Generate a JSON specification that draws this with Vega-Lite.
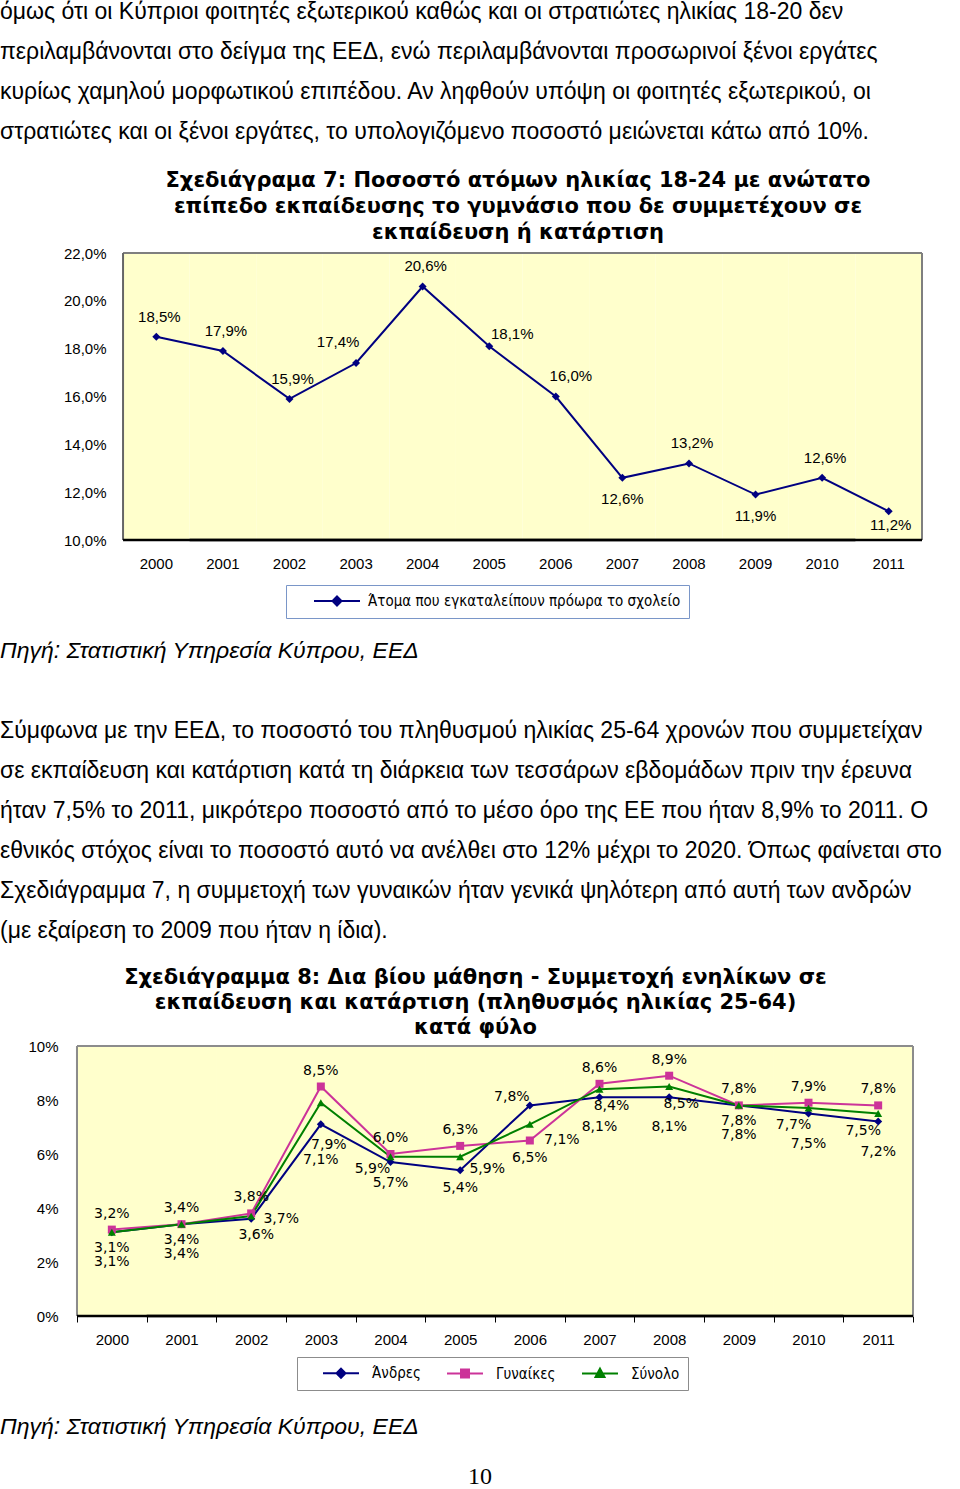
{
  "$schema": "https://vega.github.io/schema/vega-lite/v6.json",
  "padding": 0,
  "background": "white",
  "spacing": 0,
  "bounds": "flush",
  "resolve": {
    "scale": {"x": "independent", "y": "independent", "color": "independent", "fill": "independent", "stroke": "independent", "shape": "independent"},
    "legend": {"color": "independent", "fill": "independent", "stroke": "independent", "shape": "independent"}
  },
  "config": {
    "locale": {"number": {"decimal": ",", "thousands": ".", "grouping": [3], "currency": ["", " €"]}},
    "view": {"stroke": null},
    "axis": {"labelColor": "black", "titleColor": "black"},
    "legend": {"symbolStrokeWidth": 2}
  },
  "vconcat": [
    {
      "width": 960,
      "height": 253,
      "data": {"values": [
        {"line": 0, "text": "όμως ότι οι Κύπριοι φοιτητές εξωτερικού καθώς και οι στρατιώτες ηλικίας 18-20 δεν"},
        {"line": 1, "text": "περιλαμβάνονται στο δείγμα της ΕΕΔ, ενώ περιλαμβάνονται προσωρινοί ξένοι εργάτες"},
        {"line": 2, "text": "κυρίως χαμηλού μορφωτικού επιπέδου. Αν ληφθούν υπόψη οι φοιτητές εξωτερικού, οι"},
        {"line": 3, "text": "στρατιώτες και οι ξένοι εργάτες, το υπολογιζόμενο ποσοστό μειώνεται κάτω από 10%."}
      ]},
      "mark": {"type": "text", "align": "left", "baseline": "middle", "font": "Liberation Sans", "fontSize": 23, "color": "black"},
      "encoding": {
        "x": {"datum": 0, "type": "quantitative", "scale": {"domain": [0, 1]}, "axis": null},
        "y": {"field": "line", "type": "quantitative", "scale": {"domain": [-0.3, 6.025], "reverse": true, "nice": false, "zero": false}, "axis": null},
        "text": {"field": "text"}
      }
    },
    {
      "width": 922,
      "height": 287,
      "title": {
        "text": ["Σχεδιάγραμα 7: Ποσοστό ατόμων ηλικίας 18-24 με ανώτατο", "επίπεδο εκπαίδευσης το γυμνάσιο που δε συμμετέχουν σε", "εκπαίδευση ή κατάρτιση"],
        "font": "DejaVu Sans", "fontSize": 21, "fontWeight": "bold", "color": "black",
        "lineHeight": 26, "anchor": "middle", "dx": 57, "offset": 3
      },
      "data": {"values": [
        {"year": "2000", "value": 0.185},
        {"year": "2001", "value": 0.179},
        {"year": "2002", "value": 0.159},
        {"year": "2003", "value": 0.174},
        {"year": "2004", "value": 0.206},
        {"year": "2005", "value": 0.181},
        {"year": "2006", "value": 0.160},
        {"year": "2007", "value": 0.126},
        {"year": "2008", "value": 0.132},
        {"year": "2009", "value": 0.119},
        {"year": "2010", "value": 0.126},
        {"year": "2011", "value": 0.112}
      ]},
      "encoding": {
        "x": {"field": "year", "type": "ordinal", "scale": {"paddingInner": 0, "paddingOuter": 0.924, "align": 1},
          "axis": {"title": null, "labelAngle": 0, "ticks": false, "tickSize": 0, "domain": false,
            "labelFont": "Liberation Sans", "labelFontSize": 15, "labelPadding": 16}},
        "y": {"field": "value", "type": "quantitative", "scale": {"domain": [0.10, 0.22], "nice": false, "zero": false},
          "axis": {"title": null, "offset": -123, "values": [0.10, 0.12, 0.14, 0.16, 0.18, 0.20, 0.22], "format": ".1%", "ticks": false, "tickSize": 0,
            "domain": false, "grid": false, "labelFont": "Liberation Sans", "labelFontSize": 15, "labelPadding": 17}}
      },
      "layer": [
        {
          "mark": {"type": "rect", "fill": "#FFFFCC", "strokeWidth": 0},
          "encoding": {"y": {"datum": 0.22, "type": "quantitative"}, "y2": {"datum": 0.10}}
        },
        {
          "mark": {"type": "line", "color": "#7f7f7f", "strokeWidth": 2},
          "encoding": {"x": {"field": "year", "type": "ordinal", "bandPosition": 0}, "y": {"datum": 0.22, "type": "quantitative"}}
        },
        {
          "mark": {"type": "line", "color": "#7f7f7f", "strokeWidth": 2},
          "encoding": {"x": {"field": "year", "type": "ordinal", "bandPosition": 1}, "y": {"datum": 0.22, "type": "quantitative"}}
        },
        {
          "transform": [{"filter": "datum.year === '2000'"}],
          "mark": {"type": "rule", "color": "#666666", "strokeWidth": 2},
          "encoding": {"x": {"field": "year", "type": "ordinal", "bandPosition": 0}, "y": {"datum": 0.22, "type": "quantitative"}, "y2": {"datum": 0.10}}
        },
        {
          "transform": [{"filter": "datum.year === '2011'"}],
          "mark": {"type": "rule", "color": "#7f7f7f", "strokeWidth": 2},
          "encoding": {"x": {"field": "year", "type": "ordinal", "bandPosition": 1}, "y": {"datum": 0.22, "type": "quantitative"}, "y2": {"datum": 0.10}}
        },
        {
          "mark": {"type": "line", "color": "black", "strokeWidth": 2.5},
          "encoding": {"x": {"field": "year", "type": "ordinal", "bandPosition": 0}, "y": {"datum": 0.10, "type": "quantitative"}}
        },
        {
          "mark": {"type": "line", "color": "black", "strokeWidth": 2.5},
          "encoding": {"x": {"field": "year", "type": "ordinal", "bandPosition": 1}, "y": {"datum": 0.10, "type": "quantitative"}}
        },
        {"mark": {"type": "line", "color": "#000080", "strokeWidth": 2}},
        {"mark": {"type": "point", "shape": "diamond", "filled": true, "color": "#000080", "size": 64, "opacity": 1}},
        {
          "transform": [{"filter": {"field": "year", "oneOf": ["2000", "2001", "2002", "2004", "2008", "2010"]}}],
          "mark": {"type": "text", "dy": -20, "dx": 3, "font": "Liberation Sans", "fontSize": 15, "color": "black"},
          "encoding": {"text": {"field": "value", "type": "quantitative", "format": ".1%"}}
        },
        {
          "transform": [{"filter": {"field": "year", "oneOf": ["2003"]}}],
          "mark": {"type": "text", "dy": -21, "dx": -18, "font": "Liberation Sans", "fontSize": 15, "color": "black"},
          "encoding": {"text": {"field": "value", "type": "quantitative", "format": ".1%"}}
        },
        {
          "transform": [{"filter": {"field": "year", "oneOf": ["2005"]}}],
          "mark": {"type": "text", "dy": -12, "dx": 23, "font": "Liberation Sans", "fontSize": 15, "color": "black"},
          "encoding": {"text": {"field": "value", "type": "quantitative", "format": ".1%"}}
        },
        {
          "transform": [{"filter": {"field": "year", "oneOf": ["2006"]}}],
          "mark": {"type": "text", "dy": -21, "dx": 15, "font": "Liberation Sans", "fontSize": 15, "color": "black"},
          "encoding": {"text": {"field": "value", "type": "quantitative", "format": ".1%"}}
        },
        {
          "transform": [{"filter": {"field": "year", "oneOf": ["2007", "2009"]}}],
          "mark": {"type": "text", "dy": 21, "font": "Liberation Sans", "fontSize": 15, "color": "black"},
          "encoding": {"text": {"field": "value", "type": "quantitative", "format": ".1%"}}
        },
        {
          "transform": [{"filter": {"field": "year", "oneOf": ["2011"]}}],
          "mark": {"type": "text", "dy": 14, "dx": 2, "font": "Liberation Sans", "fontSize": 15, "color": "black"},
          "encoding": {"text": {"field": "value", "type": "quantitative", "format": ".1%"}}
        },
        {
          "transform": [{"filter": "false"}],
          "mark": {"type": "point", "filled": true, "opacity": 1, "strokeWidth": 2},
          "encoding": {
            "fill": {"datum": "Άτομα που εγκαταλείπουν πρόωρα το σχολείο", "type": "nominal",
              "scale": {"domain": ["Άτομα που εγκαταλείπουν πρόωρα το σχολείο"], "range": ["#000080"]},
              "legend": {"orient": "none", "legendX": 286, "legendY": 332, "direction": "horizontal", "title": null,
                "labelFont": "Liberation Sans Narrow, DejaVu Sans Condensed, sans-serif", "labelFontSize": 15, "labelColor": "black",
                "strokeColor": "#7a96c8", "fillColor": "white", "padding": 8, "labelOffset": 58, "symbolSize": 196, "symbolStrokeWidth": 2, "labelLimit": 600}},
            "stroke": {"datum": "Άτομα που εγκαταλείπουν πρόωρα το σχολείο", "type": "nominal",
              "scale": {"domain": ["Άτομα που εγκαταλείπουν πρόωρα το σχολείο"], "range": ["#000080"]},
              "legend": {"orient": "none", "legendX": 286, "legendY": 332, "direction": "horizontal", "title": null,
                "labelFont": "Liberation Sans Narrow, DejaVu Sans Condensed, sans-serif", "labelFontSize": 15, "labelColor": "black",
                "strokeColor": "#7a96c8", "fillColor": "white", "padding": 8, "labelOffset": 58, "symbolSize": 196, "symbolStrokeWidth": 2, "labelLimit": 600}},
            "shape": {"datum": "Άτομα που εγκαταλείπουν πρόωρα το σχολείο", "type": "nominal",
              "scale": {"domain": ["Άτομα που εγκαταλείπουν πρόωρα το σχολείο"], "range": ["M1.714,0H8.286M5,-0.643L5.643,0L5,0.643L4.357,0Z"]},
              "legend": {"orient": "none", "legendX": 286, "legendY": 332, "direction": "horizontal", "title": null,
                "labelFont": "Liberation Sans Narrow, DejaVu Sans Condensed, sans-serif", "labelFontSize": 15, "labelColor": "black",
                "strokeColor": "#7a96c8", "fillColor": "white", "padding": 8, "labelOffset": 58, "symbolSize": 196, "symbolStrokeWidth": 2, "labelLimit": 600}}
          }
        }
      ]
    },
    {
      "width": 960,
      "height": 506,
      "encoding": {
        "x": {"datum": 0, "type": "quantitative", "scale": {"domain": [0, 1]}, "axis": null},
        "y": {"field": "line", "type": "quantitative", "scale": {"domain": [-2.775, 9.875], "reverse": true, "nice": false, "zero": false}, "axis": null},
        "text": {"field": "text"}
      },
      "layer": [
        {
          "data": {"values": [{"line": 0, "text": "Πηγή: Στατιστική Υπηρεσία Κύπρου, ΕΕΔ"}]},
          "mark": {"type": "text", "align": "left", "baseline": "middle", "font": "Liberation Sans", "fontSize": 23, "fontStyle": "italic", "color": "black"}
        },
        {
          "data": {"values": [
            {"line": 2, "text": "Σύμφωνα με την ΕΕΔ, το ποσοστό του πληθυσμού ηλικίας 25-64 χρονών που συμμετείχαν"},
            {"line": 3, "text": "σε εκπαίδευση και κατάρτιση κατά τη διάρκεια των τεσσάρων εβδομάδων πριν την έρευνα"},
            {"line": 4, "text": "ήταν 7,5% το 2011, μικρότερο ποσοστό από το μέσο όρο της ΕΕ που ήταν 8,9% το 2011. Ο"},
            {"line": 5, "text": "εθνικός στόχος είναι το ποσοστό αυτό να ανέλθει στο 12% μέχρι το 2020. Όπως φαίνεται στο"},
            {"line": 6, "text": "Σχεδιάγραμμα 7, η συμμετοχή των γυναικών ήταν γενικά ψηλότερη από αυτή των ανδρών"},
            {"line": 7, "text": "(με εξαίρεση το 2009 που ήταν η ίδια)."}
          ]},
          "mark": {"type": "text", "align": "left", "baseline": "middle", "font": "Liberation Sans", "fontSize": 23, "color": "black"}
        }
      ]
    },
    {
      "width": 913,
      "height": 270,
      "title": {
        "text": ["Σχεδιάγραμμα 8: Δια βίου μάθηση - Συμμετοχή ενηλίκων σε", "εκπαίδευση και κατάρτιση (πληθυσμός ηλικίας 25-64)", "κατά φύλο"],
        "font": "DejaVu Sans", "fontSize": 21, "fontWeight": "bold", "color": "black",
        "lineHeight": 25, "anchor": "middle", "dx": 19, "offset": 1
      },
      "data": {"values": [
        {"year": "2000", "series": "Άνδρες", "value": 0.031},
        {"year": "2001", "series": "Άνδρες", "value": 0.034},
        {"year": "2002", "series": "Άνδρες", "value": 0.036},
        {"year": "2003", "series": "Άνδρες", "value": 0.071},
        {"year": "2004", "series": "Άνδρες", "value": 0.057},
        {"year": "2005", "series": "Άνδρες", "value": 0.054},
        {"year": "2006", "series": "Άνδρες", "value": 0.078},
        {"year": "2007", "series": "Άνδρες", "value": 0.081},
        {"year": "2008", "series": "Άνδρες", "value": 0.081},
        {"year": "2009", "series": "Άνδρες", "value": 0.078},
        {"year": "2010", "series": "Άνδρες", "value": 0.075},
        {"year": "2011", "series": "Άνδρες", "value": 0.072},
        {"year": "2000", "series": "Γυναίκες", "value": 0.032},
        {"year": "2001", "series": "Γυναίκες", "value": 0.034},
        {"year": "2002", "series": "Γυναίκες", "value": 0.038},
        {"year": "2003", "series": "Γυναίκες", "value": 0.085},
        {"year": "2004", "series": "Γυναίκες", "value": 0.060},
        {"year": "2005", "series": "Γυναίκες", "value": 0.063},
        {"year": "2006", "series": "Γυναίκες", "value": 0.065},
        {"year": "2007", "series": "Γυναίκες", "value": 0.086},
        {"year": "2008", "series": "Γυναίκες", "value": 0.089},
        {"year": "2009", "series": "Γυναίκες", "value": 0.078},
        {"year": "2010", "series": "Γυναίκες", "value": 0.079},
        {"year": "2011", "series": "Γυναίκες", "value": 0.078},
        {"year": "2000", "series": "Σύνολο", "value": 0.031},
        {"year": "2001", "series": "Σύνολο", "value": 0.034},
        {"year": "2002", "series": "Σύνολο", "value": 0.037},
        {"year": "2003", "series": "Σύνολο", "value": 0.079},
        {"year": "2004", "series": "Σύνολο", "value": 0.059},
        {"year": "2005", "series": "Σύνολο", "value": 0.059},
        {"year": "2006", "series": "Σύνολο", "value": 0.071},
        {"year": "2007", "series": "Σύνολο", "value": 0.084},
        {"year": "2008", "series": "Σύνολο", "value": 0.085},
        {"year": "2009", "series": "Σύνολο", "value": 0.078},
        {"year": "2010", "series": "Σύνολο", "value": 0.077},
        {"year": "2011", "series": "Σύνολο", "value": 0.075}
      ]},
      "encoding": {
        "x": {"field": "year", "type": "ordinal", "scale": {"paddingInner": 0, "paddingOuter": 0.5526, "align": 1},
          "axis": {"title": null, "labelAngle": 0, "ticks": true, "tickBand": "extent", "tickSize": 6, "tickColor": "black", "tickWidth": 1,
            "domain": false, "labelFont": "Liberation Sans", "labelFontSize": 15, "labelPadding": 10}},
        "y": {"field": "value", "type": "quantitative", "scale": {"domain": [0, 0.10], "nice": false, "zero": false},
          "axis": {"title": null, "offset": -77, "values": [0, 0.02, 0.04, 0.06, 0.08, 0.10], "format": ".0%", "ticks": false, "tickSize": 0,
            "domain": false, "grid": false, "labelFont": "Liberation Sans", "labelFontSize": 15, "labelPadding": 19}}
      },
      "layer": [
        {
          "mark": {"type": "rect", "fill": "#FFFFCC", "strokeWidth": 0},
          "encoding": {"y": {"datum": 0.10, "type": "quantitative"}, "y2": {"datum": 0}}
        },
        {
          "mark": {"type": "line", "color": "#8c8c8c", "strokeWidth": 2},
          "encoding": {"x": {"field": "year", "type": "ordinal", "bandPosition": 0}, "y": {"datum": 0.10, "type": "quantitative"}}
        },
        {
          "mark": {"type": "line", "color": "#8c8c8c", "strokeWidth": 2},
          "encoding": {"x": {"field": "year", "type": "ordinal", "bandPosition": 1}, "y": {"datum": 0.10, "type": "quantitative"}}
        },
        {
          "transform": [{"filter": "datum.year === '2000'"}],
          "mark": {"type": "rule", "color": "#8c8c8c", "strokeWidth": 2},
          "encoding": {"x": {"field": "year", "type": "ordinal", "bandPosition": 0}, "y": {"datum": 0.10, "type": "quantitative"}, "y2": {"datum": 0}}
        },
        {
          "transform": [{"filter": "datum.year === '2011'"}],
          "mark": {"type": "rule", "color": "#8c8c8c", "strokeWidth": 2},
          "encoding": {"x": {"field": "year", "type": "ordinal", "bandPosition": 1}, "y": {"datum": 0.10, "type": "quantitative"}, "y2": {"datum": 0}}
        },
        {
          "mark": {"type": "line", "color": "black", "strokeWidth": 2.5},
          "encoding": {"x": {"field": "year", "type": "ordinal", "bandPosition": 0}, "y": {"datum": 0, "type": "quantitative"}}
        },
        {
          "mark": {"type": "line", "color": "black", "strokeWidth": 2.5},
          "encoding": {"x": {"field": "year", "type": "ordinal", "bandPosition": 1}, "y": {"datum": 0, "type": "quantitative"}}
        },
        {
          "transform": [{"filter": "datum.series === 'Άνδρες'"}],
          "mark": {"type": "line", "strokeWidth": 2, "color": "#000080"}
        },
        {
          "transform": [{"filter": "datum.series === 'Γυναίκες'"}],
          "mark": {"type": "line", "strokeWidth": 2, "color": "#CC3399"}
        },
        {
          "transform": [{"filter": "datum.series === 'Σύνολο'"}],
          "mark": {"type": "line", "strokeWidth": 2, "color": "#008000"}
        },
        {
          "transform": [{"filter": "datum.series === 'Άνδρες'"}],
          "mark": {"type": "point", "shape": "diamond", "filled": true, "opacity": 1, "size": 64, "color": "#000080"}
        },
        {
          "transform": [{"filter": "datum.series === 'Γυναίκες'"}],
          "mark": {"type": "point", "shape": "square", "filled": true, "opacity": 1, "size": 64, "color": "#CC3399"}
        },
        {
          "transform": [{"filter": "datum.series === 'Σύνολο'"}],
          "mark": {"type": "point", "shape": "triangle-up", "filled": true, "opacity": 1, "size": 64, "color": "#008000"}
        },
        {
          "transform": [{"filter": "datum.series === 'Γυναίκες' && datum.year !== '2006'"}],
          "mark": {"type": "text", "dy": -16, "font": "DejaVu Sans", "fontSize": 14, "color": "black"},
          "encoding": {"text": {"field": "value", "type": "quantitative", "format": ".1%"}}
        },
        {
          "transform": [{"filter": "datum.series === 'Γυναίκες' && datum.year === '2006'"}],
          "mark": {"type": "text", "dy": 17, "font": "DejaVu Sans", "fontSize": 14, "color": "black"},
          "encoding": {"text": {"field": "value", "type": "quantitative", "format": ".1%"}}
        },
        {
          "transform": [{"filter": "datum.series === 'Σύνολο' && indexof(['2000','2001','2009'], datum.year) >= 0"}],
          "mark": {"type": "text", "dy": 16, "font": "DejaVu Sans", "fontSize": 14, "color": "black"},
          "encoding": {"text": {"field": "value", "type": "quantitative", "format": ".1%"}}
        },
        {
          "transform": [{"filter": "datum.series === 'Σύνολο' && datum.year === '2004'"}],
          "mark": {"type": "text", "dy": 12, "dx": -18, "font": "DejaVu Sans", "fontSize": 14, "color": "black"},
          "encoding": {"text": {"field": "value", "type": "quantitative", "format": ".1%"}}
        },
        {
          "transform": [{"filter": "datum.series === 'Σύνολο' && datum.year === '2005'"}],
          "mark": {"type": "text", "dy": 12, "dx": 27, "font": "DejaVu Sans", "fontSize": 14, "color": "black"},
          "encoding": {"text": {"field": "value", "type": "quantitative", "format": ".1%"}}
        },
        {
          "transform": [{"filter": "datum.series === 'Σύνολο' && indexof(['2007','2008'], datum.year) >= 0"}],
          "mark": {"type": "text", "dy": 17, "dx": 12, "font": "DejaVu Sans", "fontSize": 14, "color": "black"},
          "encoding": {"text": {"field": "value", "type": "quantitative", "format": ".1%"}}
        },
        {
          "transform": [{"filter": "datum.series === 'Σύνολο' && indexof(['2010','2011'], datum.year) >= 0"}],
          "mark": {"type": "text", "dy": 17, "dx": -15, "font": "DejaVu Sans", "fontSize": 14, "color": "black"},
          "encoding": {"text": {"field": "value", "type": "quantitative", "format": ".1%"}}
        },
        {
          "transform": [{"filter": "datum.series === 'Σύνολο' && datum.year === '2002'"}],
          "mark": {"type": "text", "dy": 3, "dx": 30, "font": "DejaVu Sans", "fontSize": 14, "color": "black"},
          "encoding": {"text": {"field": "value", "type": "quantitative", "format": ".1%"}}
        },
        {
          "transform": [{"filter": "datum.series === 'Σύνολο' && datum.year === '2003'"}],
          "mark": {"type": "text", "dy": 42, "dx": 8, "font": "DejaVu Sans", "fontSize": 14, "color": "black"},
          "encoding": {"text": {"field": "value", "type": "quantitative", "format": ".1%"}}
        },
        {
          "transform": [{"filter": "datum.series === 'Σύνολο' && datum.year === '2006'"}],
          "mark": {"type": "text", "dy": 16, "dx": 32, "font": "DejaVu Sans", "fontSize": 14, "color": "black"},
          "encoding": {"text": {"field": "value", "type": "quantitative", "format": ".1%"}}
        },
        {
          "transform": [{"filter": "datum.series === 'Άνδρες' && indexof(['2000','2001','2007','2008','2009','2010','2011'], datum.year) >= 0"}],
          "mark": {"type": "text", "dy": 30, "font": "DejaVu Sans", "fontSize": 14, "color": "black"},
          "encoding": {"text": {"field": "value", "type": "quantitative", "format": ".1%"}}
        },
        {
          "transform": [{"filter": "datum.series === 'Άνδρες' && datum.year === '2004'"}],
          "mark": {"type": "text", "dy": 21, "font": "DejaVu Sans", "fontSize": 14, "color": "black"},
          "encoding": {"text": {"field": "value", "type": "quantitative", "format": ".1%"}}
        },
        {
          "transform": [{"filter": "datum.series === 'Άνδρες' && datum.year === '2005'"}],
          "mark": {"type": "text", "dy": 18, "font": "DejaVu Sans", "fontSize": 14, "color": "black"},
          "encoding": {"text": {"field": "value", "type": "quantitative", "format": ".1%"}}
        },
        {
          "transform": [{"filter": "datum.series === 'Άνδρες' && datum.year === '2002'"}],
          "mark": {"type": "text", "dy": 16, "dx": 5, "font": "DejaVu Sans", "fontSize": 14, "color": "black"},
          "encoding": {"text": {"field": "value", "type": "quantitative", "format": ".1%"}}
        },
        {
          "transform": [{"filter": "datum.series === 'Άνδρες' && datum.year === '2003'"}],
          "mark": {"type": "text", "dy": 36, "font": "DejaVu Sans", "fontSize": 14, "color": "black"},
          "encoding": {"text": {"field": "value", "type": "quantitative", "format": ".1%"}}
        },
        {
          "transform": [{"filter": "datum.series === 'Άνδρες' && datum.year === '2006'"}],
          "mark": {"type": "text", "dy": -8, "dx": -18, "font": "DejaVu Sans", "fontSize": 14, "color": "black"},
          "encoding": {"text": {"field": "value", "type": "quantitative", "format": ".1%"}}
        },
        {
          "transform": [{"filter": "false"}],
          "mark": {"type": "point", "filled": true, "opacity": 1, "strokeWidth": 2},
          "encoding": {
            "fill": {"datum": "Άνδρες", "type": "nominal",
              "scale": {"domain": ["Άνδρες", "Γυναίκες", "Σύνολο"], "range": ["#000080", "#CC3399", "#008000"]},
              "legend": {"orient": "none", "legendX": 297, "legendY": 311, "direction": "horizontal", "title": null,
                "labelFont": "Liberation Sans Narrow, DejaVu Sans Condensed, sans-serif", "labelFontSize": 15, "labelColor": "black",
                "strokeColor": "#8c8c8c", "fillColor": "white", "padding": 8, "labelOffset": 51, "columnPadding": 8,
                "symbolSize": 196, "symbolStrokeWidth": 2, "labelLimit": 300}},
            "stroke": {"datum": "Άνδρες", "type": "nominal",
              "scale": {"domain": ["Άνδρες", "Γυναίκες", "Σύνολο"], "range": ["#000080", "#CC3399", "#008000"]},
              "legend": {"orient": "none", "legendX": 297, "legendY": 311, "direction": "horizontal", "title": null,
                "labelFont": "Liberation Sans Narrow, DejaVu Sans Condensed, sans-serif", "labelFontSize": 15, "labelColor": "black",
                "strokeColor": "#8c8c8c", "fillColor": "white", "padding": 8, "labelOffset": 51, "columnPadding": 8,
                "symbolSize": 196, "symbolStrokeWidth": 2, "labelLimit": 300}},
            "shape": {"datum": "Άνδρες", "type": "nominal",
              "scale": {"domain": ["Άνδρες", "Γυναίκες", "Σύνολο"], "range": ["M1.43,0H6.57M4,-0.64L4.64,0L4,0.64L3.36,0Z", "M1.43,0H6.57M3.43,-0.57H4.57V0.57H3.43Z", "M1.43,0H6.57M4,-0.7L4.64,0.5H3.36Z"]},
              "legend": {"orient": "none", "legendX": 297, "legendY": 311, "direction": "horizontal", "title": null,
                "labelFont": "Liberation Sans Narrow, DejaVu Sans Condensed, sans-serif", "labelFontSize": 15, "labelColor": "black",
                "strokeColor": "#8c8c8c", "fillColor": "white", "padding": 8, "labelOffset": 51, "columnPadding": 8,
                "symbolSize": 196, "symbolStrokeWidth": 2, "labelLimit": 300}}
          }
        },
        {
          "transform": [{"filter": "false"}],
          "mark": {"type": "point", "filled": true, "opacity": 1, "strokeWidth": 2},
          "encoding": {
            "fill": {"datum": "Γυναίκες", "type": "nominal"},
            "stroke": {"datum": "Γυναίκες", "type": "nominal"},
            "shape": {"datum": "Γυναίκες", "type": "nominal"}
          }
        },
        {
          "transform": [{"filter": "false"}],
          "mark": {"type": "point", "filled": true, "opacity": 1, "strokeWidth": 2},
          "encoding": {
            "fill": {"datum": "Σύνολο", "type": "nominal"},
            "stroke": {"datum": "Σύνολο", "type": "nominal"},
            "shape": {"datum": "Σύνολο", "type": "nominal"}
          }
        }
      ]
    },
    {
      "width": 960,
      "height": 173,
      "encoding": {
        "x": {"datum": 0, "type": "quantitative", "scale": {"domain": [0, 1]}, "axis": null},
        "y": {"field": "line", "type": "quantitative", "scale": {"domain": [-2.22, 1.24], "reverse": true, "nice": false, "zero": false}, "axis": null},
        "text": {"field": "text"}
      },
      "layer": [
        {
          "data": {"values": [{"line": 0, "text": "Πηγή: Στατιστική Υπηρεσία Κύπρου, ΕΕΔ"}]},
          "mark": {"type": "text", "align": "left", "baseline": "middle", "font": "Liberation Sans", "fontSize": 23, "fontStyle": "italic", "color": "black"}
        },
        {
          "data": {"values": [{"line": 1, "text": "10"}]},
          "mark": {"type": "text", "align": "center", "baseline": "middle", "font": "Liberation Serif", "fontSize": 24, "color": "black"},
          "encoding": {"x": {"datum": 0.5, "type": "quantitative", "scale": {"domain": [0, 1]}, "axis": null}}
        }
      ]
    }
  ]
}
